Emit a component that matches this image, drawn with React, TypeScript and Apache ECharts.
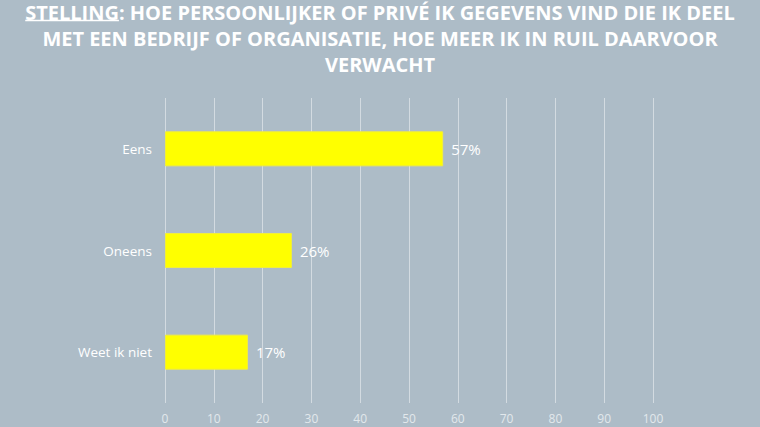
import React, { useEffect, useRef } from "react";
import * as echarts from "echarts";

const categories = ["Weet ik niet", "Oneens", "Eens"];
const values = [17, 26, 57];
const xTicks = [0, 10, 20, 30, 40, 50, 60, 70, 80, 90, 100];
const underlinedWord = "STELLING";
const titleLines = [
  "STELLING: HOE PERSOONLIJKER OF PRIVÉ IK GEGEVENS VIND DIE IK DEEL",
  "MET EEN BEDRIJF OF ORGANISATIE, HOE MEER IK IN RUIL DAARVOOR",
  "VERWACHT",
];

export default function App() {
  const ref = useRef<HTMLDivElement>(null);
  useEffect(() => {
    if (!ref.current) return;
    const chart = echarts.init(ref.current, null, { renderer: "svg" });
    const titleFamily = "'Open Sans', sans-serif";
    const canvas = document.createElement("canvas");
    const ctx = canvas.getContext("2d")!;
    ctx.font = `bold 20px ${titleFamily}`;
    const w1 = ctx.measureText(titleLines[0]).width;
    const ratio = 710 / w1;
    const fontSize = 20 * ratio;
    const scaleY = 1 / ratio;
    ctx.font = `bold ${fontSize}px ${titleFamily}`;
    const wordW = ctx.measureText(underlinedWord).width;
    const lineW = ctx.measureText(titleLines[0]).width;
    const cx = 380;
    const lineYs = [12.5, 38.5, 64.5];
    const firstLeft = cx - lineW / 2;

    const graphics: any[] = titleLines.map((t, i) => ({
      type: "text",
      x: cx,
      y: lineYs[i],
      scaleX: 1,
      scaleY: scaleY,
      style: {
        text: t,
        fill: "#ffffff",
        font: `bold ${fontSize}px ${titleFamily}`,
        align: "center",
        verticalAlign: "middle",
      },
    }));
    graphics.push({
      type: "line",
      shape: { x1: firstLeft, y1: 20.5, x2: firstLeft + wordW, y2: 20.5 },
      style: { stroke: "#ffffff", lineWidth: 1.5 },
    });

    chart.setOption({
      animation: false,
      backgroundColor: "#adbcc7",
      graphic: graphics,
      grid: { left: 165, right: 107, top: 98, bottom: 24, containLabel: false },
      xAxis: {
        type: "value",
        min: 0,
        max: 100,
        interval: 10,
        axisLine: { show: false },
        axisTick: { show: false },
        splitLine: { show: true, lineStyle: { color: "#d3dbe1", width: 1 } },
        axisLabel: {
          color: "#e2e8ec",
          fontSize: 12,
          fontFamily: "'Open Sans', sans-serif",
          margin: 9,
          formatter: (v: number) => (xTicks.includes(v) ? String(v) : ""),
        },
      },
      yAxis: {
        type: "category",
        data: categories,
        axisLine: { show: false },
        axisTick: { show: false },
        axisLabel: {
          color: "#ffffff",
          fontSize: 13.5,
          fontFamily: "'Open Sans', sans-serif",
          margin: 13,
        },
      },
      series: [
        {
          type: "bar",
          data: values,
          barWidth: 35,
          itemStyle: { color: "#ffff00", borderColor: "#f2ee3a", borderWidth: 1 },
          label: {
            show: true,
            position: "right",
            distance: 8,
            color: "#ffffff",
            fontSize: 15,
            fontFamily: "'Open Sans', sans-serif",
            formatter: "{c}%",
          },
        },
      ],
    });
    return () => chart.dispose();
  }, []);
  return <div ref={ref} style={{ width: 760, height: 427, position: "absolute", left: 0, top: 0 }} />;
}
